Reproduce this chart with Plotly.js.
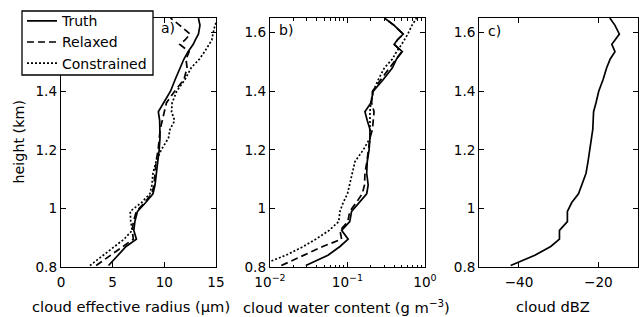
<!DOCTYPE html>
<html><head><meta charset="utf-8">
<script src="https://cdn.plot.ly/plotly-3.0.1.min.js"></script>
<style>html,body{margin:0;padding:0;background:#fff}</style>
</head><body><div id="chart" style="width:641px;height:317px"></div>
<script>
// heights (km)
const heights = [0.805, 0.84, 0.87, 0.895, 0.925, 0.955, 0.99, 1.02, 1.05, 1.08, 1.12, 1.16, 1.20, 1.24, 1.27, 1.30, 1.33, 1.36, 1.40, 1.44, 1.48, 1.51, 1.535, 1.56, 1.575, 1.595, 1.625, 1.65];

// a) cloud effective radius (um)
const reTruth       = [4.6, 5.5, 6.3, 7.3, 7.05, 7.15, 7.4, 8.2, 8.9, 9.1, 9.25, 9.35, 9.5, 9.58, 9.58, 9.55, 9.42, 9.95, 10.6, 11.05, 11.5, 11.9, 12.3, 12.8, 13.0, 13.3, 13.45, 13.3];
const reRelaxed     = [3.4, 4.8, 6.0, 7.0, 6.9, 7.0, 7.3, 8.1, 8.8, 9.0, 9.1, 9.2, 9.4, 9.5, 9.6, 9.8, 10.0, 10.2, 11.0, 11.9, 12.2, 12.1, 12.4, 11.5, 12.0, 12.5, 11.5, 10.6];
const reConstrained = [2.8, 4.1, 5.2, 6.1, 6.9, 6.75, 6.7, 7.8, 8.6, 8.8, 8.9, 9.2, 9.7, 10.4, 10.55, 11.0, 10.7, 10.75, 11.2, 12.0, 12.6, 13.4, 13.9, 14.3, 14.6, 14.7, 14.9, 15.2];

// b) cloud water content (g m-3)
const cwcTruth       = [0.029, 0.056, 0.08, 0.102, 0.084, 0.107, 0.113, 0.14, 0.177, 0.185, 0.177, 0.18, 0.19, 0.195, 0.195, 0.18, 0.168, 0.20, 0.215, 0.29, 0.38, 0.43, 0.51, 0.40, 0.44, 0.525, 0.40, 0.30];
const cwcRelaxed     = [0.014, 0.027, 0.048, 0.084, 0.080, 0.101, 0.107, 0.13, 0.155, 0.166, 0.168, 0.178, 0.186, 0.195, 0.21, 0.215, 0.22, 0.205, 0.21, 0.27, 0.35, 0.42, 0.50, 0.40, 0.44, 0.52, 0.40, 0.30];
const cwcConstrained = [0.0075, 0.016, 0.027, 0.039, 0.058, 0.077, 0.080, 0.088, 0.10, 0.106, 0.114, 0.125, 0.16, 0.195, 0.195, 0.195, 0.195, 0.20, 0.215, 0.25, 0.30, 0.38, 0.43, 0.50, 0.54, 0.60, 0.68, 0.78];

// c) cloud dBZ
const dbzTruth = [-42.1, -36.0, -32.0, -29.8, -29.8, -27.8, -27.8, -26.7, -25.0, -24.2, -23.1, -22.6, -22.2, -21.7, -21.4, -21.3, -21.2, -20.6, -19.9, -18.8, -17.9, -17.0, -15.8, -16.6, -15.8, -14.7, -15.8, -17.1];

const seriesNames = ['Truth', 'Relaxed', 'Constrained'];
const heightTicks = [0.8, 1, 1.2, 1.4, 1.6];
const reTicks = [0, 5, 10, 15];
const cwcTicks = [0.01, 0.1, 1];
const cwcTickText = ['10<sup>−2</sup>', '10<sup>−1</sup>', '10<sup>0</sup>'];
const dbzTicks = [-40, -20];
const panelLabels = ['a)', 'b)', 'c)'];
const xTitles = ['cloud effective radius (μm)', 'cloud water content (g m<sup>−3</sup>)', 'cloud dBZ'];
const yTitle = 'height (km)';

const dashes = ['solid', '7px,4px', '2px,2px'];
const lw = 1.7;
function line(x, i, xa, ya, show) {
  return {x: x, y: heights, xaxis: xa, yaxis: ya, type: 'scatter', mode: 'lines',
    name: seriesNames[i], showlegend: show,
    line: {color: 'black', width: lw, dash: dashes[i]}};
}
const traces = [
  line(reTruth, 0, 'x', 'y', true),
  line(reRelaxed, 1, 'x', 'y', true),
  line(reConstrained, 2, 'x', 'y', true),
  line(cwcTruth, 0, 'x2', 'y2', false),
  line(cwcRelaxed, 1, 'x2', 'y2', false),
  line(cwcConstrained, 2, 'x2', 'y2', false),
  line(dbzTruth, 0, 'x3', 'y3', false)
];

const TFS = 13.6;   // tick labels
const LFS = 14.7;   // axis titles
function ax(o) {
  return Object.assign({showline: true, linecolor: 'black', linewidth: 1.2, mirror: 'ticks',
    ticks: 'inside', ticklen: 5, tickwidth: 1, tickcolor: 'black', showgrid: false, zeroline: false,
    tickfont: {size: TFS, color: 'black'}, fixedrange: true}, o);
}
const minorVals = [];
[0.01, 0.1].forEach(d => { for (let k = 2; k <= 9; k++) minorVals.push(+(d * k).toPrecision(3)); });

const yax = (anchor) => ax({anchor: anchor, range: [0.8, 1.65], tickmode: 'array', tickvals: heightTicks, domain: [0, 1]});

// plot-area geometry (px) used to place paper-referenced items
const PL = 61, PW = 577, PT = 18, PH = 249;
const px = (x) => (x - PL) / PW;
const py = (y) => 1 - (y - PT) / PH;

const titleAnn = (t, xc) => ({text: t, xref: 'paper', yref: 'paper', x: px(xc), y: py(306.5),
  xanchor: 'center', yanchor: 'middle', showarrow: false, font: {size: LFS, color: 'black'}});

const layout = {
  width: 641, height: 317,
  margin: {l: PL, r: 641 - PL - PW, t: PT, b: 317 - PT - PH},
  paper_bgcolor: 'white', plot_bgcolor: 'white',
  font: {family: 'DejaVu Sans', color: 'black', size: 14},
  xaxis: ax({domain: [0, 0.2686], range: [0, 15], tickmode: 'array', tickvals: reTicks, anchor: 'y', ticklabelstandoff: 2}),
  xaxis2: ax({domain: [0.3622, 0.6308], type: 'log', range: [-2, 0], tickmode: 'array', tickvals: cwcTicks,
    ticktext: cwcTickText, anchor: 'y2', ticklabelstandoff: 2,
    minor: {tickmode: 'array', tickvals: minorVals, ticks: 'inside', ticklen: 2.5, tickcolor: 'black', tickwidth: 1}}),
  xaxis3: ax({domain: [0.725, 1], range: [-50, -10], tickmode: 'array', tickvals: dbzTicks, anchor: 'y3', ticklabelstandoff: 2}),
  yaxis: yax('x'),
  yaxis2: yax('x2'),
  yaxis3: yax('x3'),
  showlegend: true,
  legend: {x: px(22), y: py(5.2), xanchor: 'left', yanchor: 'top', bgcolor: 'rgba(0,0,0,0)',
    borderwidth: 0, font: {size: 14, color: 'black'}, tracegroupgap: 0},
  shapes: [
    {type: 'rect', xref: 'paper', yref: 'paper', x0: px(22), x1: px(153), y0: py(75), y1: py(11),
      fillcolor: 'white', line: {color: 'black', width: 1.3}, layer: 'above'}
  ],
  annotations: [
    {text: panelLabels[0], xref: 'x domain', yref: 'y domain', x: 0.63, y: 0.96, xanchor: 'left', yanchor: 'middle', showarrow: false, font: {size: 14}},
    {text: panelLabels[1], xref: 'x2 domain', yref: 'y2 domain', x: 0.045, y: 0.95, xanchor: 'left', yanchor: 'middle', showarrow: false, font: {size: 14}},
    {text: panelLabels[2], xref: 'x3 domain', yref: 'y3 domain', x: 0.042, y: 0.948, xanchor: 'left', yanchor: 'middle', showarrow: false, font: {size: 14}},
    titleAnn(xTitles[0], 130.5),
    titleAnn(xTitles[1], 346.7),
    titleAnn(xTitles[2], 553),
    {text: yTitle, xref: 'paper', yref: 'paper', x: px(18), y: 0.5, textangle: -90, xanchor: 'center', yanchor: 'middle',
      showarrow: false, font: {size: 14.3, color: 'black'}}
  ]
};
Plotly.newPlot('chart', traces, layout, {staticPlot: true});
</script></body></html>
